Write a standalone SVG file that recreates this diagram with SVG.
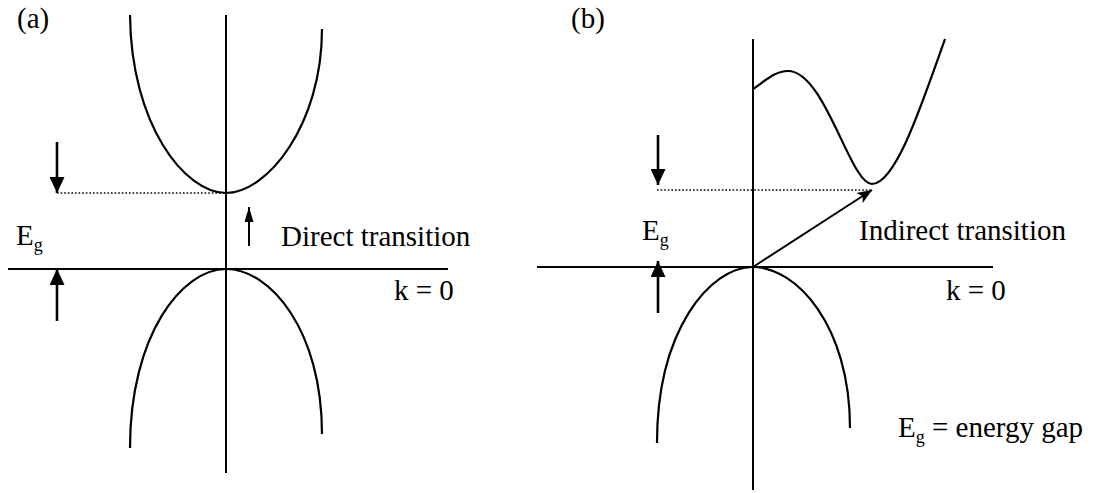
<svg xmlns="http://www.w3.org/2000/svg" width="1094" height="493" viewBox="0 0 1094 493">
<style>
.ax{stroke:#000;stroke-width:2;fill:none}
.cv{stroke:#000;stroke-width:2.2;fill:none}
.dot{stroke:#000;stroke-width:1.6;stroke-dasharray:1.6,2;fill:none}
.ar{stroke:#000;stroke-width:2.6;fill:none}
.t{font-family:"Liberation Serif","Times New Roman",serif;font-size:29px;fill:#000}
.s{font-size:18px}
</style>
<defs>
<marker id="big" markerUnits="userSpaceOnUse" markerWidth="16" markerHeight="15" refX="16" refY="7.5" orient="auto"><path d="M0,0 L16,7.5 L0,15 z" fill="#000"/></marker>
<marker id="small" markerUnits="userSpaceOnUse" markerWidth="15" markerHeight="9" refX="15" refY="4.5" orient="auto"><path d="M0,0 L15,4.5 L0,9 z" fill="#000"/></marker>
<marker id="open" markerUnits="userSpaceOnUse" markerWidth="16" markerHeight="12" refX="15" refY="6" orient="auto"><path d="M0,0 L15,6 L0,12 L4,6 z" fill="#000"/></marker>
</defs>
<g id="panel-a">
<text class="t" x="17" y="28">(a)</text>
<g id="a-axes">
<line class="ax" x1="226" y1="15" x2="226" y2="473"/>
<line class="ax" x1="8" y1="269" x2="448" y2="269"/>
</g>
<g id="a-conduction"><path class="cv" d="M130,15 C131,125 185,193 226,193 C267,193 322,125 322,29"/></g>
<g id="a-valence"><path class="cv" d="M130,448 C130,335 182,269 226,269 C270,269 322,330 322,434"/></g>
<g id="a-labels">
<text class="t" x="16" y="245">E<tspan class="s" dy="6">g</tspan></text>
<text class="t" x="281" y="246">Direct transition</text>
<text class="t" x="394" y="300">k = 0</text>
</g>
</g>
<g id="panel-b">
<text class="t" x="571" y="28">(b)</text>
<g id="b-axes">
<line class="ax" x1="753" y1="39" x2="753" y2="490"/>
<line class="ax" x1="537" y1="267" x2="993" y2="267"/>
</g>
<g id="b-conduction"><path class="cv" d="M753,89 C765,81 775,71 788,71 C825,71 850,184 872,184 C895,184 920,110 945,39"/></g>
<g id="b-valence"><path class="cv" d="M657,443 C657,330 710,267 753,267 C796,267 850,325 850,428"/></g>
<g id="b-labels">
<text class="t" x="642" y="240">E<tspan class="s" dy="6">g</tspan></text>
<text class="t" x="859" y="240">Indirect transition</text>
<text class="t" x="946" y="300">k = 0</text>
<text class="t" x="898" y="437">E<tspan class="s" dy="6">g</tspan><tspan dy="-6"> = energy gap</tspan></text>
</g>
</g>
<g id="connectors">
<line class="dot" x1="57" y1="193" x2="226" y2="193"/>
<line class="ar" x1="57" y1="142" x2="57" y2="193" marker-end="url(#big)"/>
<line class="ar" x1="57" y1="321" x2="57" y2="269" marker-end="url(#big)"/>
<line class="ax" x1="249" y1="246" x2="249" y2="207" marker-end="url(#small)"/>
<line class="dot" x1="657" y1="190" x2="872" y2="190"/>
<line class="ar" x1="658" y1="135" x2="658" y2="185" marker-end="url(#big)"/>
<line class="ar" x1="658" y1="313" x2="658" y2="261" marker-end="url(#big)"/>
<line class="ax" x1="753" y1="267" x2="872" y2="190" marker-end="url(#open)"/>
</g>
</svg>
